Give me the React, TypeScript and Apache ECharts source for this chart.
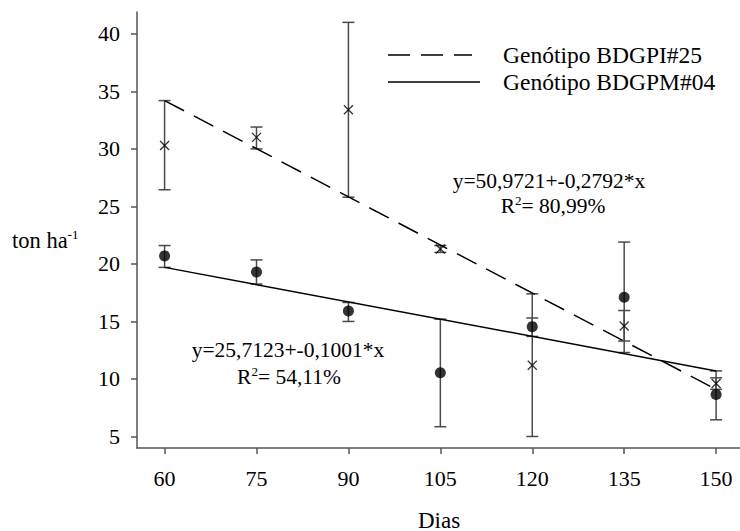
import React, { useEffect, useRef } from "react";
import * as echarts from "echarts";

const days = [60, 75, 90, 105, 120, 135, 150];
const xTicks = [60, 75, 90, 105, 120, 135, 150];
const yTicks = [5, 10, 15, 20, 25, 30, 35, 40];

const bdgpiMean = [30.3, 31.0, 33.4, 21.3, 11.2, 14.6, 9.6];
const bdgpiLow = [26.45, 30.0, 25.8, 21.0, 5.0, 13.3, 9.1];
const bdgpiHigh = [34.2, 31.9, 41.0, 21.6, 17.4, 15.95, 10.1];

const bdgpmMean = [20.7, 19.3, 15.9, 10.55, 14.55, 17.1, 8.65];
const bdgpmLow = [19.7, 18.25, 15.0, 5.85, 13.7, 12.3, 6.45];
const bdgpmHigh = [21.6, 20.35, 16.65, 15.2, 15.3, 21.9, 10.7];

const bdgpiTrendX = [60, 150];
const bdgpiTrendY = [34.2, 9.1];
const bdgpmTrendX = [60, 150];
const bdgpmTrendY = [19.7, 10.7];

const nameI = "Genótipo BDGPI#25";
const nameM = "Genótipo BDGPM#04";
const eqI = ["y=50,9721+-0,2792*x", "80,99%"];
const eqM = ["y=25,7123+-0,1001*x", "54,11%"];

const FONT = "'Liberation Serif', 'Times New Roman', serif";
const DASH = [22, 11];

function errorSeries(name: string, low: number[], high: number[]) {
  return {
    type: "custom",
    name,
    data: days.map((d, i) => [d, low[i], high[i]]),
    encode: { x: 0, y: [1, 2] },
    silent: true,
    z: 1,
    renderItem: (params: any, api: any) => {
      const x = api.value(0);
      const top = api.coord([x, api.value(2)]);
      const bot = api.coord([x, api.value(1)]);
      const hw = 6;
      const st = { stroke: "#4a4a4a", lineWidth: 1.5 };
      return {
        type: "group",
        children: [
          { type: "line", shape: { x1: top[0], y1: top[1], x2: bot[0], y2: bot[1] }, style: st },
          { type: "line", shape: { x1: top[0] - hw, y1: top[1], x2: top[0] + hw, y2: top[1] }, style: st },
          { type: "line", shape: { x1: bot[0] - hw, y1: bot[1], x2: bot[0] + hw, y2: bot[1] }, style: st },
        ],
      };
    },
  };
}

export default function App() {
  const ref = useRef<HTMLDivElement>(null);
  useEffect(() => {
    if (!ref.current) return;
    const chart = echarts.init(ref.current, undefined, { renderer: "svg" });
    const supRich = {
      sup: { fontSize: 13, fontFamily: FONT, fill: "#000", padding: [0, 0, 11, 0] },
    };
    const eqStyle = { fontSize: 21.5, fontFamily: FONT, fill: "#000", align: "center", verticalAlign: "middle" };
    chart.setOption({
      animation: false,
      backgroundColor: "#fff",
      textStyle: { fontFamily: FONT, color: "#000" },
      grid: { left: 137, right: 0, top: 12, bottom: 83, containLabel: false, outerBoundsMode: "none" },
      xAxis: {
        type: "value",
        min: 55.5,
        max: 153.9,
        axisLine: { show: true, lineStyle: { color: "#555", width: 1.5 } },
        axisTick: { show: true, length: 6, inside: false, customValues: xTicks, lineStyle: { color: "#555", width: 1.5 } },
        axisLabel: { customValues: xTicks, fontSize: 22, fontFamily: FONT, color: "#000", margin: 19 },
        splitLine: { show: false },
      },
      yAxis: {
        type: "value",
        min: 4,
        max: 41.9,
        axisLine: { show: true, lineStyle: { color: "#555", width: 1.5 } },
        axisTick: { show: true, length: 6, customValues: yTicks, lineStyle: { color: "#555", width: 1.5 } },
        axisLabel: { customValues: yTicks, fontSize: 22, fontFamily: FONT, color: "#000", margin: 17 },
        splitLine: { show: false },
      },
      graphic: [
        {
          type: "line",
          shape: { x1: 388, y1: 55, x2: 472, y2: 55 },
          style: { stroke: "#000", lineWidth: 1.5, lineDash: DASH },
        },
        {
          type: "text",
          x: 503,
          y: 55,
          style: { text: nameI, fontSize: 23.5, fontFamily: FONT, fill: "#000", verticalAlign: "middle" },
        },
        {
          type: "line",
          shape: { x1: 388, y1: 82, x2: 480, y2: 82 },
          style: { stroke: "#000", lineWidth: 1.5 },
        },
        {
          type: "text",
          x: 503,
          y: 82,
          style: { text: nameM, fontSize: 23.5, fontFamily: FONT, fill: "#000", verticalAlign: "middle" },
        },
        {
          type: "text",
          x: 439,
          y: 520,
          style: { text: "Dias", fontSize: 23, fontFamily: FONT, fill: "#000", align: "center", verticalAlign: "middle" },
        },
        {
          type: "text",
          left: 12,
          top: 228,
          style: {
            text: "ton ha{sup|-1}",
            fontSize: 22.5,
            fontFamily: FONT,
            fill: "#000",
            rich: supRich,
          },
        },
        { type: "text", x: 549, y: 181, style: { ...eqStyle, text: eqI[0] } },
        { type: "text", x: 553, y: 206, style: { ...eqStyle, text: "R{sup|2}= " + eqI[1], rich: supRich } },
        { type: "text", x: 288, y: 350, style: { ...eqStyle, text: eqM[0] } },
        { type: "text", x: 289, y: 377, style: { ...eqStyle, text: "R{sup|2}= " + eqM[1], rich: supRich } },
      ],
      series: [
        {
          type: "line",
          name: nameI,
          data: bdgpiTrendX.map((x, i) => [x, bdgpiTrendY[i]]),
          showSymbol: false,
          symbol: "none",
          lineStyle: { color: "#000", width: 1.5, type: DASH },
          itemStyle: { color: "#000" },
          z: 2,
        },
        {
          type: "line",
          name: nameM,
          data: bdgpmTrendX.map((x, i) => [x, bdgpmTrendY[i]]),
          showSymbol: false,
          symbol: "none",
          lineStyle: { color: "#000", width: 1.5, type: "solid" },
          itemStyle: { color: "#000" },
          z: 2,
        },
        errorSeries("BDGPI#25 erro", bdgpiLow, bdgpiHigh),
        errorSeries("BDGPM#04 erro", bdgpmLow, bdgpmHigh),
        {
          type: "scatter",
          name: "BDGPI#25 média",
          data: days.map((d, i) => [d, bdgpiMean[i]]),
          symbol: "path://M0 0L10 10M10 0L0 10",
          symbolSize: 9,
          itemStyle: { color: "rgba(0,0,0,0)", borderColor: "#000", borderWidth: 1.3 },
          z: 3,
        },
        {
          type: "scatter",
          name: "BDGPM#04 média",
          data: days.map((d, i) => [d, bdgpmMean[i]]),
          symbol: "circle",
          symbolSize: 11,
          itemStyle: { color: "#000" },
          z: 3,
        },
      ],
    });
    return () => chart.dispose();
  }, []);
  return (
    <div
      ref={ref}
      style={{ position: "absolute", left: 0, top: 0, width: 740, height: 531, background: "#fff" }}
    />
  );
}
